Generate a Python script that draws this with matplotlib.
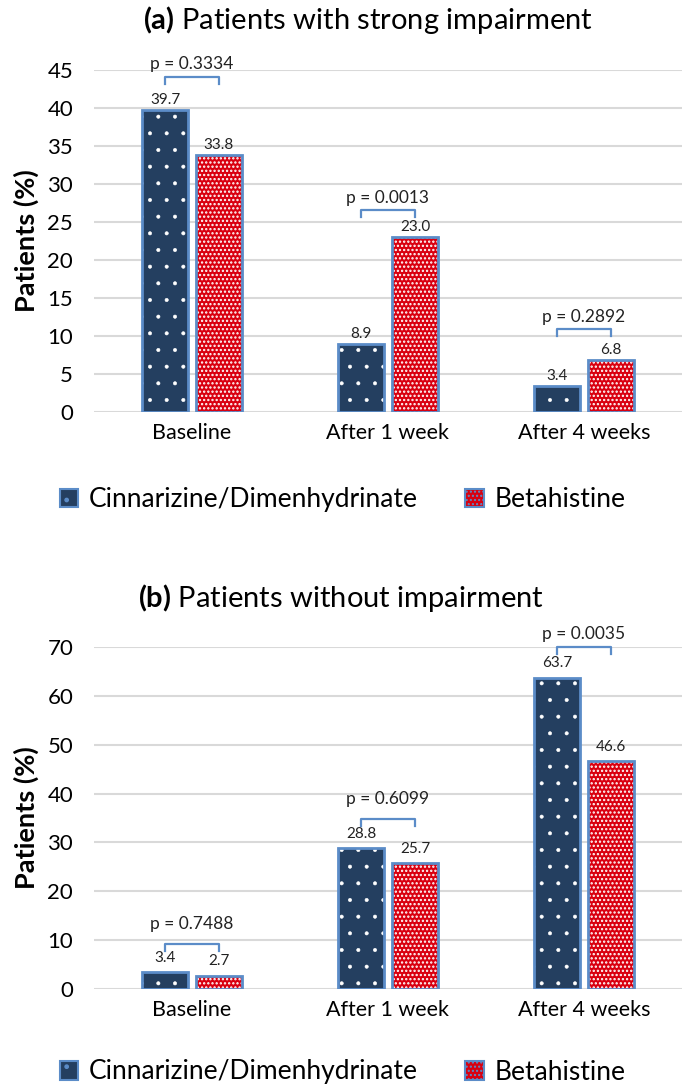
import numpy as np
import matplotlib.pyplot as plt
from matplotlib.patches import Patch

plt.rcParams['font.family'] = ['Lato', 'DejaVu Sans']
plt.rcParams['mathtext.fontset'] = 'custom'
plt.rcParams['mathtext.bf'] = 'Lato:bold'
plt.rcParams['mathtext.rm'] = 'Lato'

# данные
categories = ["Baseline", "After 1 week", "After 4 weeks"]
series_names = ["Cinnarizine/Dimenhydrinate", "Betahistine"]

a_cinn = [39.7, 8.9, 3.4]
a_beta = [33.8, 23.0, 6.8]
a_pvals = ["0.3334", "0.0013", "0.2892"]
a_bracket = [44.1, 26.6, 10.9]
a_ptext = [45.8, 28.1, 12.5]

b_cinn = [3.4, 28.8, 63.7]
b_beta = [2.7, 25.7, 46.6]
b_pvals = ["0.7488", "0.6099", "0.0035"]
b_bracket = [9.2, 34.8, 69.9]
b_ptext = [13.3, 38.8, 72.6]

navy = "#243F60"
red = "#D90010"
border = "#5B8CC8"
grid_c = "#D9D9D9"

W = 0.235
OFF = 0.1375
# штриховка: (узор, толщина линии штриховки)
styles = [(navy, ".", 0.4), (red, "....", 1.1)]


def draw_panel(ax, cinn, beta, pvals, br_y, pt_y, ymax, step, tick_len, lab_off):
    x = np.arange(len(categories))
    for vals, dx, (col, hatch, hlw) in zip([cinn, beta], [-OFF, OFF], styles):
        # заливка со штриховкой
        with plt.rc_context({'hatch.linewidth': hlw}):
            ax.bar(x + dx, vals, W, color=col, edgecolor="white", linewidth=0,
                   hatch=hatch, zorder=3)
        # рамка
        ax.bar(x + dx, vals, W, fill=False, edgecolor=border, linewidth=2, zorder=4)
        for xi, v in zip(x + dx, vals):
            ax.annotate(f"{v:.1f}", (xi, v), xytext=(0, lab_off), textcoords="offset points",
                        ha="center", va="center", fontsize=11, color="#222222")
    # скобки с p-значениями
    for xi, p, by, ty in zip(x, pvals, br_y, pt_y):
        ax.plot([xi - OFF, xi - OFF, xi + OFF, xi + OFF],
                [by - tick_len, by, by, by - tick_len],
                color=border, linewidth=1.6, zorder=5, clip_on=False)
        ax.text(xi, ty, f"p = {p}", ha="center", va="center", fontsize=12.5,
                color="#222222", clip_on=False)

    ax.set_xlim(-0.5, 2.5)
    ax.set_ylim(0, ymax)
    ax.set_yticks(np.arange(0, ymax + 0.1, step))
    ax.set_xticks(x)
    ax.set_xticklabels(categories, fontsize=15.5)
    ax.tick_params(axis="y", length=0, pad=15, labelsize=16)
    ax.tick_params(axis="x", length=0, pad=8)
    ax.grid(axis="y", color=grid_c, linewidth=1.5, zorder=0)
    ax.set_axisbelow(True)
    for s in ax.spines.values():
        s.set_visible(False)
    ax.set_ylabel("Patients (%)", fontsize=19.5, fontweight="bold", labelpad=6)


fig = plt.figure(figsize=(6.85, 10.92), dpi=100)
ax1 = fig.add_axes([0.1372, 0.6227, 0.8584, 0.3132])
ax2 = fig.add_axes([0.1372, 0.0943, 0.8584, 0.3132])

draw_panel(ax1, a_cinn, a_beta, a_pvals, a_bracket, a_ptext, 45, 5, 0.9, 7.5)
draw_panel(ax2, b_cinn, b_beta, b_pvals, b_bracket, b_ptext, 70, 10, 1.4, 10.5)

fig.text(368 / 685, 1 - 20 / 1092, r"$\bf{(a)}$ Patients with strong impairment",
         ha="center", va="center", fontsize=21)
fig.text(341 / 685, 1 - 598 / 1092, r"$\bf{(b)}$ Patients without impairment",
         ha="center", va="center", fontsize=21)

handles = []
for col, hatch, hlw in styles:
    with plt.rc_context({'hatch.linewidth': hlw}):
        handles.append(Patch(facecolor=col, edgecolor=border, hatch=hatch, linewidth=1.5))
for ypix in [500, 1072]:
    fig.legend(handles, series_names, loc="center", bbox_to_anchor=(0.5, 1 - ypix / 1092),
               ncol=2, frameon=False, fontsize=19, handlelength=0.7, handleheight=0.7,
               handletextpad=0.4, columnspacing=1.8)

fig.savefig("out.png", dpi=100)
